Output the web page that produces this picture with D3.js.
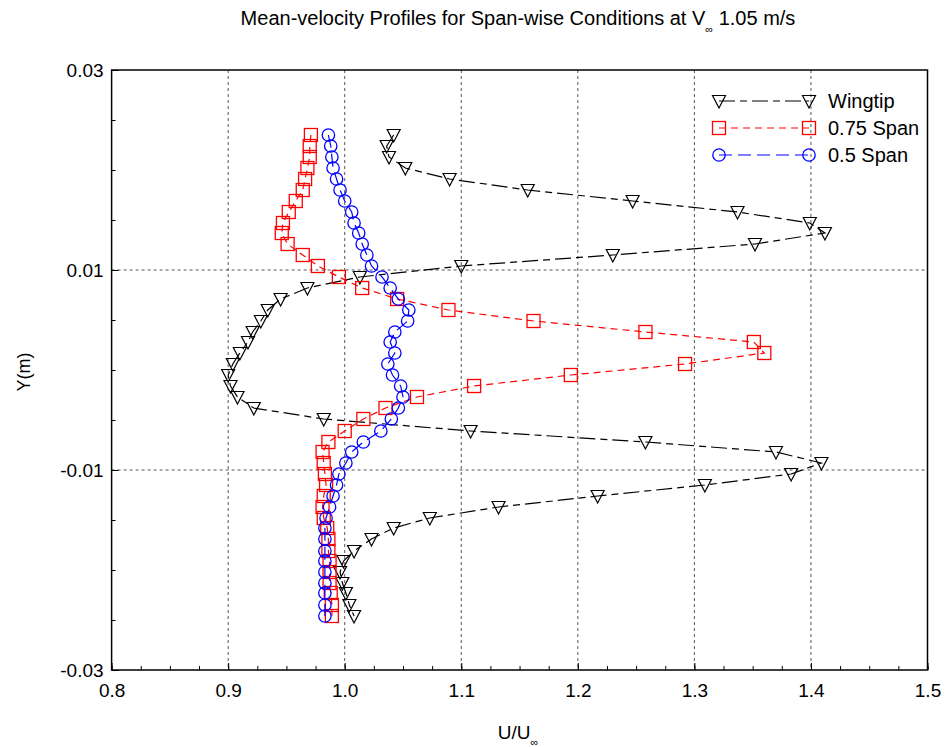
<!DOCTYPE html>
<html>
<head>
<meta charset="utf-8">
<script src="https://cdn.jsdelivr.net/npm/d3@7"></script>
<style>
  html, body { margin: 0; padding: 0; background: #fff; }
  svg { display: block; font-family: "Liberation Sans", Arial, sans-serif; }
</style>
</head>
<body>
<svg id="chart" width="950" height="747"></svg>
<script>
// Measurement stations across the wake (m), shared by all three traverses
const yPositions = [
  0.0235, 0.0224, 0.0213, 0.0202, 0.0191, 0.0180, 0.0169, 0.0158, 0.0147, 0.0137,
  0.0126, 0.0115, 0.0104, 0.0093, 0.0082, 0.0071, 0.0060, 0.0049, 0.0038, 0.0028,
  0.0017, 0.0006, -0.0005, -0.0016, -0.0027, -0.0038, -0.0049, -0.0061, -0.0072, -0.0082,
  -0.0093, -0.0104, -0.0115, -0.0126, -0.0137, -0.0148, -0.0158, -0.0169, -0.0181, -0.0191,
  -0.0202, -0.0213, -0.0223, -0.0235, -0.0246
];

// U/U∞ at each station
const wingtip = [
  1.042, 1.036, 1.038, 1.052, 1.090, 1.157, 1.247, 1.337, 1.399, 1.412,
  1.352, 1.230, 1.100, 1.013, 0.968, 0.945, 0.934, 0.928, 0.921, 0.917,
  0.910, 0.904, 0.900, 0.902, 0.908, 0.922, 0.982, 1.108, 1.258, 1.370,
  1.409, 1.383, 1.309, 1.217, 1.132, 1.073, 1.042, 1.023, 1.008, 0.999,
  0.996, 0.998, 1.001, 1.004, 1.008
];
const span075 = [
  0.971, 0.970, 0.970, 0.968, 0.966, 0.964, 0.958, 0.952, 0.947, 0.946,
  0.951, 0.964, 0.977, 0.995, 1.015, 1.045, 1.089, 1.162, 1.258, 1.351,
  1.360, 1.292, 1.194, 1.111, 1.062, 1.035, 1.016, 1.000, 0.986, 0.981,
  0.982, 0.983, 0.984, 0.982, 0.981, 0.982, 0.985, 0.986, 0.986, 0.987,
  0.987, 0.987, 0.988, 0.989, 0.989
];
const span05 = [
  0.986, 0.988, 0.989, 0.990, 0.993, 0.996, 1.000, 1.006, 1.008, 1.012,
  1.015, 1.019, 1.023, 1.032, 1.039, 1.046, 1.055, 1.054, 1.043, 1.039,
  1.043, 1.037, 1.041, 1.048, 1.050, 1.046, 1.040, 1.031, 1.016, 1.006,
  1.001, 0.995, 0.993, 0.990, 0.987, 0.984, 0.983, 0.983, 0.983, 0.983,
  0.983, 0.983, 0.983, 0.983, 0.983
];

const seriesNames = ["Wingtip", "0.75 Span", "0.5 Span"];
const xTickValues = [0.8, 0.9, 1.0, 1.1, 1.2, 1.3, 1.4, 1.5];
const yTickValues = [0.03, 0.01, -0.01, -0.03];

const series = [
  { name: seriesNames[0], values: wingtip, color: "#000000", dash: "16,5,7,5", marker: "tri" },
  { name: seriesNames[1], values: span075, color: "#ff0000", dash: "7,5", marker: "square" },
  { name: seriesNames[2], values: span05, color: "#0000ff", dash: "13,6", marker: "circle" }
];

const svg = d3.select("#chart");
const margin = { left: 111.6, right: 22.5, top: 70, bottom: 77 };
const W = 950, H = 747;
const x = d3.scaleLinear().domain([0.8, 1.5]).range([margin.left, W - margin.right]);
const y = d3.scaleLinear().domain([-0.03, 0.03]).range([H - margin.bottom, margin.top]);

// Grid lines at interior major ticks
const grid = svg.append("g").attr("stroke", "#555").attr("stroke-width", 1).attr("stroke-dasharray", "3,3");
xTickValues.slice(1, -1).forEach(v => {
  grid.append("line").attr("x1", x(v)).attr("x2", x(v)).attr("y1", y(0.03)).attr("y2", y(-0.03));
});
yTickValues.slice(1, -1).forEach(v => {
  grid.append("line").attr("x1", x(0.8)).attr("x2", x(1.5)).attr("y1", y(v)).attr("y2", y(v));
});

// Axes with inward ticks
const xMinor = d3.range(0, 29).map(i => 0.8 + i * 0.025);
const yMinor = d3.range(0, 13).map(i => -0.03 + i * 0.005);

const xAxis = svg.append("g").attr("transform", `translate(0,${y(-0.03)})`)
  .call(d3.axisBottom(x).tickValues(xTickValues).tickFormat(d3.format(".1f")).tickSizeInner(-7).tickSizeOuter(0).tickPadding(14));
svg.append("g").attr("transform", `translate(0,${y(-0.03)})`)
  .call(d3.axisBottom(x).tickValues(xMinor).tickFormat("").tickSizeInner(-4).tickSizeOuter(0))
  .select(".domain").remove();

const yAxis = svg.append("g").attr("transform", `translate(${x(0.8)},0)`)
  .call(d3.axisLeft(y).tickValues(yTickValues).tickFormat(d => d3.format(".2f")(d).replace("\u2212", "-")).tickSizeInner(-7).tickSizeOuter(0).tickPadding(8));
svg.append("g").attr("transform", `translate(${x(0.8)},0)`)
  .call(d3.axisLeft(y).tickValues(yMinor).tickFormat("").tickSizeInner(-4).tickSizeOuter(0))
  .select(".domain").remove();

[xAxis, yAxis].forEach(a => {
  a.selectAll("text").attr("font-size", 19).attr("fill", "#000").attr("font-family", "Liberation Sans, Arial, sans-serif");
});
svg.selectAll(".tick line").attr("stroke", "#000");
svg.selectAll(".domain").remove();

// Frame around plotting area
svg.append("rect")
  .attr("x", x(0.8)).attr("y", y(0.03))
  .attr("width", x(1.5) - x(0.8)).attr("height", y(-0.03) - y(0.03))
  .attr("fill", "none").attr("stroke", "#000").attr("stroke-width", 1.5);

// Marker shapes
function drawMarker(g, kind, cx, cy, color) {
  if (kind === "tri") {
    g.append("path")
      .attr("d", `M${cx - 6.5},${cy - 5.5} L${cx + 6.5},${cy - 5.5} L${cx},${cy + 7} Z`)
      .attr("fill", "none").attr("stroke", color).attr("stroke-width", 1.2);
  } else if (kind === "square") {
    g.append("rect").attr("x", cx - 6.5).attr("y", cy - 6.5).attr("width", 13).attr("height", 13)
      .attr("fill", "none").attr("stroke", color).attr("stroke-width", 1.3);
  } else {
    g.append("circle").attr("cx", cx).attr("cy", cy).attr("r", 6.2)
      .attr("fill", "none").attr("stroke", color).attr("stroke-width", 1.3);
  }
}

const line = d3.line().x(d => x(d[0])).y(d => y(d[1]));

series.forEach(s => {
  const pts = s.values.map((v, i) => [v, yPositions[i]]);
  const g = svg.append("g");
  g.append("path").datum(pts).attr("d", line)
    .attr("fill", "none").attr("stroke", s.color).attr("stroke-width", 1.2)
    .attr("stroke-dasharray", s.dash);
  pts.forEach(p => drawMarker(g, s.marker, x(p[0]), y(p[1]), s.color));
});

// Legend
const legend = svg.append("g");
series.forEach((s, i) => {
  const ly = 101 + i * 27;
  const x1 = 719, x2 = 809;
  legend.append("line").attr("x1", x1).attr("x2", x2).attr("y1", ly).attr("y2", ly)
    .attr("stroke", s.color).attr("stroke-width", 1.2).attr("stroke-dasharray", s.dash);
  drawMarker(legend, s.marker, x1, ly, s.color);
  drawMarker(legend, s.marker, x2, ly, s.color);
  legend.append("text").attr("x", 828).attr("y", ly + 7).attr("font-size", 20).attr("fill", "#000").text(s.name);
});

// Title
const title = svg.append("text").attr("x", 518).attr("y", 25).attr("text-anchor", "middle")
  .attr("font-size", 20).attr("fill", "#000");
title.append("tspan").text("Mean-velocity Profiles for Span-wise Conditions at V");
title.append("tspan").attr("font-size", 11).attr("dy", 8).text("∞");
title.append("tspan").attr("dy", -8).text(" 1.05 m/s");

// Axis titles
const xt = svg.append("text").attr("x", 518).attr("y", 739).attr("text-anchor", "middle")
  .attr("font-size", 19).attr("fill", "#000");
xt.append("tspan").text("U/U");
xt.append("tspan").attr("font-size", 11).attr("dy", 7).text("∞");

svg.append("text").attr("transform", "translate(30,372) rotate(-90)").attr("text-anchor", "middle")
  .attr("font-size", 18).attr("fill", "#000").text("Y(m)");
</script>
</body>
</html>
